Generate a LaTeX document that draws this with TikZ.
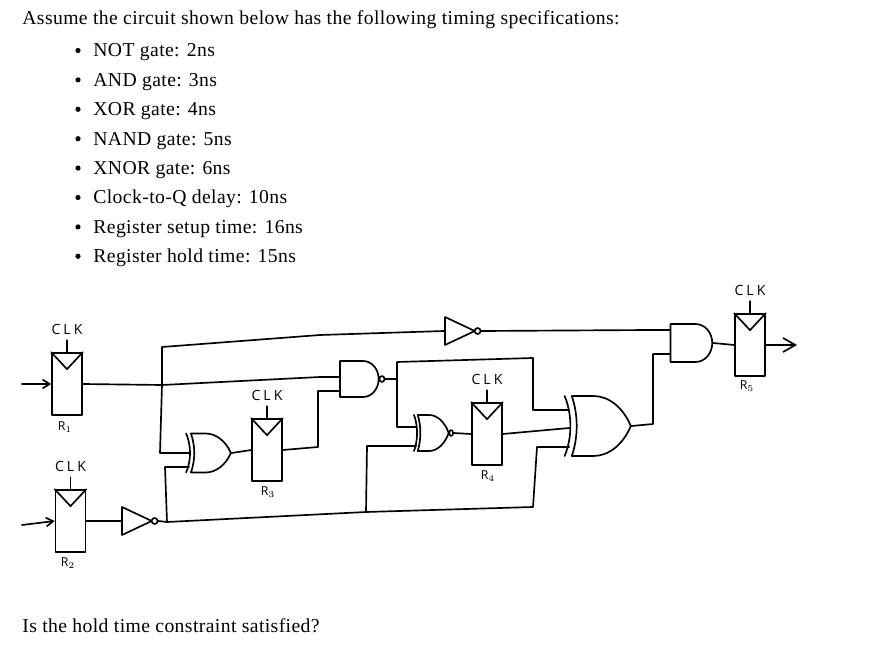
\documentclass[tikz,border=0pt]{standalone}
\usepackage{xcolor}
\usepackage{amsmath}
\usepackage{fontspec}
\setmainfont[LetterSpace=2]{Liberation Serif}
\newfontfamily\handfont[LetterSpace=22]{Open Sans}
\usetikzlibrary{calc,arrows.meta,shapes.gates.logic.US}

\tikzset{
  wire/.style={line width=0.95pt,line join=round,line cap=round},
  regbox/.style={draw,wire,rectangle,minimum width=0.6cm,minimum height=1.24cm,inner sep=0pt},
  gatebody/.style={draw,wire,logic gate inverted radius=1.7pt,transform shape},
  clklabel/.style={font=\handfont\footnotesize,inner sep=0pt},
  reglabel/.style={font=\handfont\scriptsize,inner sep=0pt},
  textline/.style={anchor=base west,inner sep=0pt,font=\fontsize{11.2}{13}\selectfont},
}

\begin{document}
\begin{tikzpicture}[x=0.02cm,y=-0.02cm]
  \useasboundingbox (0,0) rectangle (883,655);

  % text
  \node[textline] (intro) at (22,25) {Assume the circuit shown below has the following timing specifications:};
  \foreach \item [count=\i] in {NOT gate: 2ns,AND gate: 3ns,XOR gate: 4ns,NAND gate: 5ns,XNOR gate: 6ns,Clock-to-Q delay: 10ns,Register setup time: 16ns,Register hold time: 15ns}{
    \fill (78,{50.5+29.4*(\i-1)}) circle (2.6);
    \node[textline] (item\i) at (93,{57+29.4*(\i-1)}) {\item};
  }
  \node[textline] (question) at (22,632) {Is the hold time constraint satisfied?};

  % registers
  \node[regbox] (r1) at (67,384) {};
  \node[regbox] (r2) at (70.5,521) {};
  \node[regbox] (r3) at (267,450) {};
  \node[regbox] (r4) at (487,434) {};
  \node[regbox] (r5) at (750,345) {};
  \foreach \reg in {r1,r2,r3,r4,r5}{
    \draw[wire] (\reg.north west) -- ($(\reg.north)+(0,17)$) -- (\reg.north east);
    \node[clklabel] (\reg clk) at ($(\reg.north)+(0,-23)$) {CLK};
    \draw[wire] (\reg.north) -- ($(\reg.north)+(0,-12)$);
  }
  \node[reglabel] (r1name) at (65,427) {R$_1$};
  \node[reglabel] (r2name) at (68,563) {R$_2$};
  \node[reglabel] (r3name) at (268,492) {R$_3$};
  \node[reglabel] (r4name) at (488,476) {R$_4$};
  \node[reglabel] (r5name) at (747,386) {R$_5$};

  % gates
  \node[not gate US,gatebody,minimum width=0.5cm,minimum height=0.48cm] (notlow) at (132,521) {};
  \node[not gate US,gatebody,minimum width=0.5cm,minimum height=0.48cm] (nottop) at (455,331) {};
  \node[xor gate US,gatebody,xscale=0.75,logic gate inputs=nn,logic gate input sep=0.26cm] (xorlow) at (208,453) {};
  \node[nand gate US,gatebody,xscale=0.86,logic gate inputs=nn,logic gate input sep=0.24cm] (nandmid) at (358,379) {};
  \node[xnor gate US,gatebody,xscale=0.63,logic gate inputs=nn,logic gate input sep=0.24cm] (xnormid) at (431,433) {};
  \node[xor gate US,gatebody,xscale=0.72,logic gate inputs=nn,logic gate input sep=0.4cm] (xorbig) at (597,426) {};
  \node[and gate US,gatebody,xscale=0.88,logic gate inputs=nn,logic gate input sep=0.253cm] (andtop) at (690,343) {};
  \coordinate (xorbigmid) at ($(xorbig.input 1)!0.5!(xorbig.input 2)+(0,2)$);

  % bends and junctions
  \coordinate (in1) at (22,384);
  \coordinate (in2) at (22,525);
  \coordinate (out5) at (797,345);
  \coordinate (jr1) at (162,385);
  \coordinate (jr1top) at (162,347);
  \coordinate (jr1low) at (160,453);
  \coordinate (topa) at (320,335);
  \coordinate (topb) at (650,330);
  \coordinate (mida) at (320,377);
  \coordinate (jnot) at (167,522);
  \coordinate (jnotup) at (165,467);
  \coordinate (jlow) at (366,512);
  \coordinate (jlowup) at (367,446);
  \coordinate (lowa) at (533,507);
  \coordinate (lowb) at (537,447);
  \coordinate (r3a) at (318,447);
  \coordinate (r3b) at (318,391);
  \coordinate (jnand) at (397,379);
  \coordinate (nanda) at (397,362);
  \coordinate (nandb) at (533,358);
  \coordinate (nandc) at (533,410);
  \coordinate (nandd) at (397,427);
  \coordinate (xora) at (653,424);
  \coordinate (xorb) at (653,354);

  % wires
  \draw[wire,-{Straight Barb[length=4pt,width=5pt]}] (in1) -- (r1.west);
  \draw[wire,-{Straight Barb[length=4pt,width=5pt]}] (in2) -- (r2.west);
  \draw[wire,-{Straight Barb[length=7pt,width=8pt]}] (r5.east) -- (out5);
  \draw[wire] (r1.east) -- (jr1) -- (mida) -- (mida -| nandmid.west);
  \draw[wire] (jr1) -- (jr1top) -- (topa) -- (nottop.input);
  \draw[wire] (jr1) -- (jr1low) -- (jr1low -| xorlow.input 1);
  \draw[wire] (nottop.output) -- (topb) -- (topb -| andtop.west);
  \draw[wire] (r2.east) -- (notlow.input);
  \draw[wire] (notlow.output) -- (jnot) -- (jlow) -- (lowa) -- (lowb) -- (lowb -| xorbig.input 2);
  \draw[wire] (jnot) -- (jnotup) -- (jnotup -| xorlow.input 2);
  \draw[wire] (jlow) -- (jlowup) -- (jlowup -| xnormid.input 2);
  \draw[wire] (xorlow.output) -- (r3.west);
  \draw[wire] (r3.east) -- (r3a) -- (r3b) -- (r3b -| nandmid.west);
  \draw[wire] (nandmid.output) -- (jnand) -- (nanda) -- (nandb) -- (nandc) -- (nandc -| xorbig.input 1);
  \draw[wire] (jnand) -- (nandd) -- (nandd -| xnormid.input 1);
  \draw[wire] (xnormid.output) -- (r4.west);
  \draw[wire] (r4.east) -- (xorbigmid);
  \draw[wire] (xorbig.output) -- (xora) -- (xorb) -- (xorb -| andtop.west);
  \draw[wire] (andtop.output) -- (r5.west);
\end{tikzpicture}
\end{document}
